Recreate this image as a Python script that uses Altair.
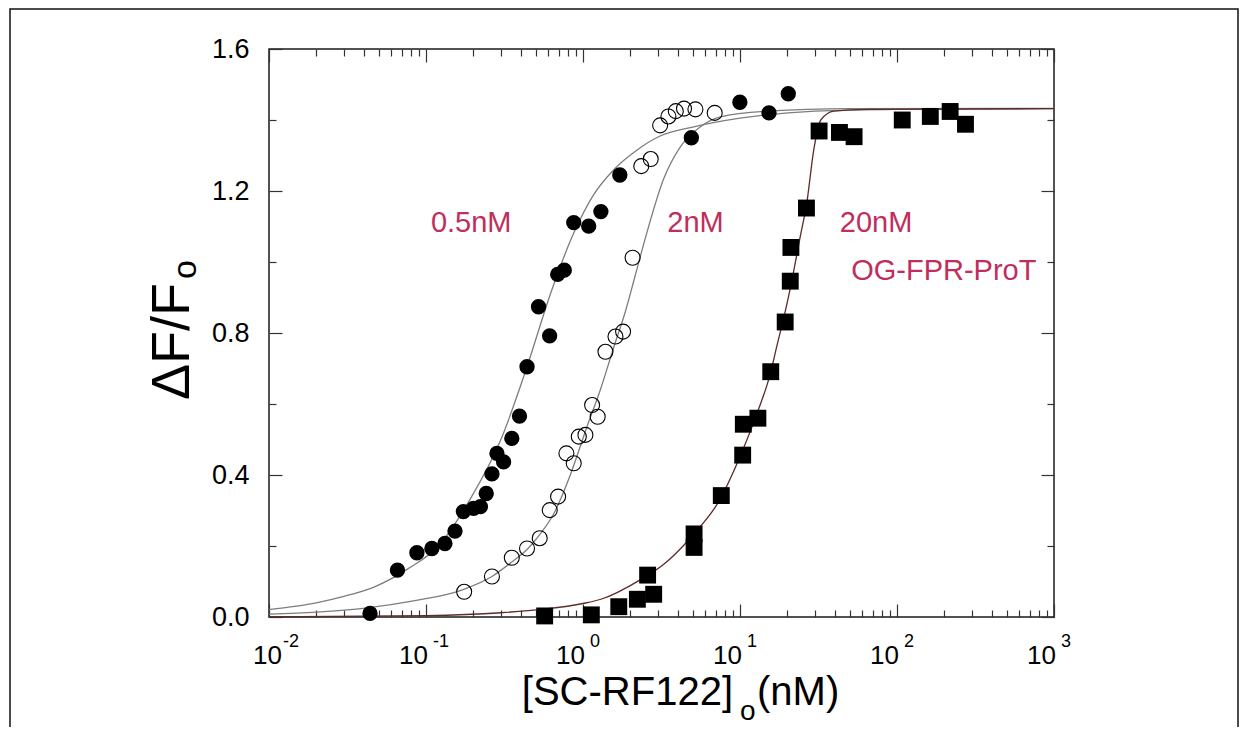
import altair as alt
import pandas as pd

# ---------------- data ----------------
# 0.5 nM OG-FPR-ProT (filled circles)
x_05 = [0.044, 0.0658, 0.0875, 0.109, 0.132, 0.153, 0.173, 0.201, 0.222, 0.242, 0.263, 0.283,
        0.312, 0.352, 0.394, 0.44, 0.521, 0.613, 0.69, 0.76, 0.873, 1.087, 1.30, 1.716,
        4.9, 9.98, 15.3, 20.3]
y_05 = [0.01, 0.132, 0.181, 0.193, 0.207, 0.242, 0.297, 0.306, 0.311, 0.348, 0.403, 0.461,
        0.437, 0.503, 0.566, 0.705, 0.874, 0.792, 0.965, 0.977, 1.111, 1.101, 1.142, 1.245,
        1.35, 1.450, 1.420, 1.474]

# 2 nM (open circles)
x_2 = [0.175, 0.263, 0.352, 0.44, 0.53, 0.614, 0.694, 0.784, 0.873, 0.94, 1.036, 1.143, 1.24,
       1.39, 1.61, 1.80, 2.07, 2.35, 2.70, 3.1, 3.5, 3.9, 4.4, 5.2, 6.9]
y_2 = [0.071, 0.114, 0.167, 0.193, 0.222, 0.301, 0.339, 0.461, 0.433, 0.508, 0.513, 0.597, 0.564,
       0.747, 0.79, 0.804, 1.012, 1.27, 1.29, 1.385, 1.41, 1.425, 1.432, 1.43, 1.42]

# 20 nM (filled squares)
x_20 = [0.57, 1.13, 1.69, 2.22, 2.58, 2.82, 5.1, 5.1, 7.6, 10.4, 10.5, 13.0, 15.7, 19.4, 20.9,
        21.1, 26.5, 31.9, 43.0, 53.3, 108, 163, 218, 273]
y_20 = [0.003, 0.006, 0.029, 0.05, 0.118, 0.064, 0.234, 0.196, 0.342, 0.456, 0.543, 0.560, 0.691,
        0.831, 0.946, 1.041, 1.152, 1.369, 1.365, 1.353, 1.400, 1.410, 1.424, 1.388]

# fitted curves
c05_x = [0.01, 0.02, 0.03, 0.047, 0.0775, 0.12, 0.19, 0.3, 0.44, 0.62, 0.87, 1.17, 1.57, 2.2,
         3.1, 5.0, 10, 30, 100, 1000]
c05_y = [0.021, 0.04, 0.058, 0.085, 0.137, 0.2, 0.33, 0.50, 0.705, 0.91, 1.08, 1.19, 1.26, 1.315,
         1.355, 1.38, 1.405, 1.425, 1.43, 1.432]

c2_x = [0.01, 0.02, 0.041, 0.085, 0.169, 0.263, 0.352, 0.44, 0.53, 0.65, 0.83, 1.06, 1.29, 1.57,
        1.86, 2.13, 2.56, 3.27, 4.18, 5.6, 7.5, 15, 50, 1000]
c2_y = [0.008, 0.014, 0.025, 0.046, 0.076, 0.114, 0.155, 0.19, 0.232, 0.29, 0.40, 0.536, 0.64, 0.76,
        0.86, 0.955, 1.085, 1.235, 1.325, 1.381, 1.409, 1.425, 1.432, 1.433]

c20_x = [0.01, 0.1, 0.3, 0.56, 1.0, 1.3, 2.3, 3.3, 4.4, 5.1, 7.2, 10.4, 13, 15.7, 17.1, 19.4, 21,
         24.4, 26.5, 29.6, 32.7, 39.7, 65, 1000]
c20_y = [0.0005, 0.004, 0.012, 0.022, 0.038, 0.05, 0.104, 0.15, 0.203, 0.235, 0.32, 0.47, 0.58,
         0.69, 0.76, 0.86, 0.93, 1.08, 1.16, 1.32, 1.40, 1.425, 1.43, 1.432]

series_names = ["0.5nM", "2nM", "20nM"]

# annotations
ann_text = ["0.5nM", "2nM", "20nM", "OG-FPR-ProT"]
ann_x = [0.194, 5.21, 73.6, 198.6]
ann_y = [1.085, 1.085, 1.085, 0.949]

# axis tick labels
xlab_vals = [0.01, 0.1, 1, 10, 100, 1000]
xlab_exp = ["-2", "-1", "0", "1", "2", "3"]
y_label_vals = [0.0, 0.4, 0.8, 1.2, 1.6]
y_tick_vals = [0.0, 0.2, 0.4, 0.6, 0.8, 1.0, 1.2, 1.4, 1.6]
x_tick_vals = [round(m * 10.0 ** e, 6) for e in range(-2, 3) for m in range(1, 10)] + [1000]

# ---------------- chart ----------------
W, H = 785, 568
FONT = "Liberation Sans"
RED = "#BF2E5C"

xscale = alt.Scale(type="log", domain=[0.01, 1000], nice=False)
yscale = alt.Scale(domain=[0, 1.6], nice=False, zero=False)

x_major = "abs(log(datum.value)/LN10 - round(log(datum.value)/LN10)) < 0.001"
y_major = "abs(datum.value/0.4 - round(datum.value/0.4)) < 0.001"
x_tsize = {"condition": {"test": x_major, "value": 13}, "value": 7}
y_tsize = {"condition": {"test": y_major, "value": 13}, "value": 7}

def tick_axis(orient, offset, values, tsize):
    return alt.Axis(orient=orient, offset=offset, values=values, labels=False, ticks=True,
                    tickSize=tsize, tickColor="#333333", tickWidth=1.2, domain=False,
                    grid=False, title=None)

curves_df = pd.concat([
    pd.DataFrame({"x": c05_x, "y": c05_y, "series": series_names[0]}),
    pd.DataFrame({"x": c2_x, "y": c2_y, "series": series_names[1]}),
    pd.DataFrame({"x": c20_x, "y": c20_y, "series": series_names[2]}),
])
df05 = pd.DataFrame({"x": x_05, "y": y_05})
df2 = pd.DataFrame({"x": x_2, "y": y_2})
df20 = pd.DataFrame({"x": x_20, "y": y_20})
ann_df = pd.DataFrame({"label": ann_text, "x": ann_x, "y": ann_y})
xlab_df = pd.DataFrame({"v": xlab_vals, "e": xlab_exp})
one = alt.Data(values=[{}])

frame = alt.Chart(one).mark_rect(filled=False, stroke="#111111", strokeWidth=1.5).encode(
    x=alt.value(-259), x2=alt.value(969), y=alt.value(-40), y2=alt.value(800)
)

curves = alt.Chart(curves_df).mark_line(interpolate="monotone", strokeWidth=1.3).encode(
    x=alt.X("x:Q", scale=xscale, axis=tick_axis("top", -H, x_tick_vals, x_tsize)),
    y=alt.Y("y:Q", scale=yscale, axis=tick_axis("right", -W, y_tick_vals, y_tsize)),
    color=alt.Color("series:N", scale=alt.Scale(domain=series_names,
                                                range=["#7d7d7d", "#7d7d7d", "#5e2a2a"]),
                    legend=None),
)

pts05 = alt.Chart(df05).mark_point(shape="circle", filled=True, fill="black", size=235,
                                   opacity=1, strokeWidth=0).encode(
    x=alt.X("x:Q", scale=xscale, axis=tick_axis("bottom", -H, x_tick_vals, x_tsize)),
    y=alt.Y("y:Q", scale=yscale, axis=tick_axis("left", -W, y_tick_vals, y_tsize)),
)

pts2 = alt.Chart(df2).mark_point(shape="circle", filled=False, stroke="black", strokeWidth=1.1,
                                 size=225, opacity=1).encode(
    x=alt.X("x:Q", scale=xscale, axis=None),
    y=alt.Y("y:Q", scale=yscale, axis=None),
)

pts20 = alt.Chart(df20).mark_point(shape="square", filled=True, fill="black", size=285,
                                   opacity=1, strokeWidth=0).encode(
    x=alt.X("x:Q", scale=xscale, axis=None),
    y=alt.Y("y:Q", scale=yscale, axis=None),
)

ann = alt.Chart(ann_df).mark_text(font=FONT, fontSize=29, color=RED, align="center",
                                  baseline="alphabetic").encode(
    x=alt.X("x:Q", scale=xscale, axis=None),
    y=alt.Y("y:Q", scale=yscale,
            axis=alt.Axis(orient="left", values=y_label_vals, format=".1f", ticks=False,
                          tickSize=0, labelPadding=20, labelFont=FONT, labelFontSize=27,
                          labelColor="black", domain=False, grid=False, title=None)),
    text="label:N",
)

def xlab_layer(filt, dx_base, dx_exp):
    base = alt.Chart(xlab_df).transform_filter(filt)
    tens = base.mark_text(text="10", font=FONT, fontSize=26, color="black", align="right",
                          baseline="alphabetic", dx=dx_base, dy=47).encode(
        x=alt.X("v:Q", scale=xscale, axis=None),
        y=alt.YDatum(0, scale=yscale, axis=None),
    )
    exps = base.mark_text(font=FONT, fontSize=18, color="black", align="left",
                          baseline="alphabetic", dx=dx_exp, dy=30).encode(
        x=alt.X("v:Q", scale=xscale, axis=None),
        y=alt.YDatum(0, scale=yscale, axis=None),
        text="e:N",
    )
    return [tens, exps]

xl_first = xlab_layer("datum.v < 0.05", 13, 14)
xl_rest = xlab_layer("datum.v > 0.05", 2, 7)

def title_text(txt, x, y, size, align="left", angle=0):
    return alt.Chart(one).mark_text(text=txt, font=FONT, fontSize=size, color="black",
                                    align=align, baseline="alphabetic", angle=angle).encode(
        x=alt.value(x), y=alt.value(y))

titles = [
    title_text("[SC-RF122]", 464, 656, 40, align="right"),
    title_text("o", 471, 671, 28),
    title_text("(nM)", 488, 656, 40),
    title_text("\u0394F/F", -80, 351, 54, angle=270),
    title_text("o", -73, 230, 34, angle=270),
]

chart = alt.layer(frame, curves, pts05, pts2, pts20, ann, *xl_first, *xl_rest, *titles).resolve_axis(
    x="independent", y="independent"
).properties(
    width=W, height=H,
    padding={"left": 261, "top": 41, "right": 186, "bottom": 110},
    autosize="none",
).configure_view(stroke="#1a1a1a", strokeWidth=1.5).configure_axis(grid=False, domain=False)

chart.save("out.html", embed_options={"renderer": "svg", "actions": False})
